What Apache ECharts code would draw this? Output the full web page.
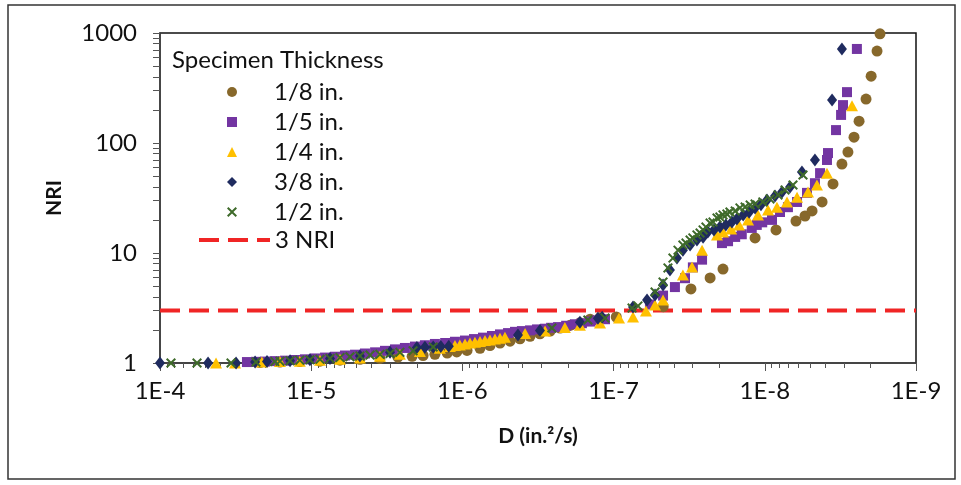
<!DOCTYPE html>
<html><head><meta charset="utf-8">
<script src="https://cdn.jsdelivr.net/npm/echarts@6/dist/echarts.min.js"></script>
<style>html,body{margin:0;padding:0;background:#fff}#c{width:961px;height:485px}</style>
</head><body><div id="c"></div>
<script>
// ---- data (D in in.^2/s, NRI) ----
const seriesNames = ['1/8 in.', '1/5 in.', '1/4 in.', '3/8 in.', '1/2 in.'];
const refName = '3 NRI';
const refNRI = 3;

const d8 = [2.18e-5,1.61e-5,1.19e-5,8.75e-6,6.45e-6,4.76e-6,3.51e-6,2.67e-6,2.15e-6,1.82e-6,1.52e-6,1.26e-6,1.09e-6,9.32e-7,7.65e-7,6.57e-7,5.64e-7,4.84e-7,4.16e-7,3.57e-7,3.07e-7,2.63e-7,2.26e-7,1.94e-7,1.67e-7,1.43e-7,1.23e-7,9.6e-8,
  4.7e-8,3.08e-8,2.30e-8,1.89e-8,1.16e-8,8.43e-9,6.22e-9,5.42e-9,4.87e-9,4.18e-9,3.54e-9,3.09e-9,2.82e-9,2.57e-9,2.38e-9,2.14e-9,1.98e-9,1.81e-9,1.73e-9];
const n8 = [1.01,1.02,1.03,1.04,1.06,1.08,1.1,1.13,1.15,1.17,1.2,1.23,1.26,1.3,1.36,1.44,1.52,1.58,1.66,1.75,1.84,1.95,2.08,2.2,2.32,2.5,2.58,2.62,
  3.25,4.71,5.93,7.15,13.7,16.2,19.5,21.7,24.1,29.1,42.5,64.3,82.7,113,158,251,405,685,982];

const d5 = [2.66e-5,2.32e-5,2.02e-5,1.74e-5,1.49e-5,1.28e-5,1.10e-5,9.44e-6,8.10e-6,6.96e-6,5.98e-6,5.13e-6,4.41e-6,3.78e-6,3.25e-6,2.79e-6,2.40e-6,2.06e-6,1.77e-6,1.52e-6,1.30e-6,1.12e-6,9.61e-7,8.38e-7,7.31e-7,6.37e-7,5.64e-7,4.99e-7,4.49e-7,4.04e-7,3.57e-7,3.21e-7,2.84e-7,2.59e-7,2.33e-7,2.06e-7,1.80e-7,1.62e-7,1.43e-7,1.29e-7,1.14e-7,
  5.75e-8,4.71e-8,3.93e-8,3.37e-8,2.99e-8,2.60e-8,1.92e-8,1.75e-8,1.57e-8,1.42e-8,1.22e-8,1.13e-8,1.04e-8,8.96e-9,7.93e-9,7.03e-9,6.12e-9,5.26e-9,4.66e-9,4.31e-9,3.88e-9,3.82e-9,3.38e-9,3.13e-9,3.04e-9,2.86e-9,2.46e-9];
const n5 = [1.02,1.025,1.03,1.04,1.05,1.065,1.08,1.1,1.12,1.14,1.17,1.19,1.22,1.25,1.29,1.33,1.37,1.41,1.45,1.49,1.52,1.56,1.6,1.65,1.7,1.76,1.82,1.87,1.92,1.95,1.98,2.02,2.05,2.09,2.12,2.18,2.25,2.3,2.38,2.44,2.5,
  3.4,4.1,4.9,5.9,7.4,8.7,12.3,12.8,14.0,14.8,16.9,18.0,19.0,20.0,23.6,26.1,29.1,35.2,43.1,53.2,70.1,81,131,180,221,290,716];

const d4 = [4.26e-5,3.19e-5,2.12e-5,1.61e-5,1.19e-5,8.75e-6,6.45e-6,4.76e-6,3.51e-6,2.59e-6,1.91e-6,1.41e-6,1.21e-6,1.12e-6,1.04e-6,9.61e-7,8.91e-7,8.26e-7,7.65e-7,7.09e-7,6.57e-7,6.09e-7,5.64e-7,5.23e-7,3.85e-7,2.84e-7,2.10e-7,1.67e-7,1.23e-7,
  9.21e-8,7.44e-8,6.11e-8,5.32e-8,4.71e-8,3.48e-8,3.03e-8,2.60e-8,2.07e-8,1.89e-8,1.67e-8,1.48e-8,1.29e-8,1.11e-8,9.52e-9,8.31e-9,7.13e-9,6.12e-9,5.18e-9,4.52e-9,3.88e-9,2.65e-9];
const n4 = [1.0,1.0,1.02,1.03,1.04,1.06,1.08,1.11,1.15,1.2,1.27,1.36,1.41,1.44,1.46,1.49,1.52,1.54,1.57,1.6,1.62,1.65,1.68,1.71,1.85,1.95,2.1,2.2,2.31,
  2.56,2.62,2.97,3.36,3.74,6.3,7.45,10.6,14.6,15.5,16.5,18.0,20.0,22.2,24.6,26.1,29.1,32.1,35.9,41.5,53.2,218];

const d38 = [1.0e-4,4.81e-5,3.14e-5,2.35e-5,1.96e-5,1.38e-5,1.02e-5,7.51e-6,4.76e-6,3.01e-6,2.00e-6,1.77e-6,1.56e-6,1.39e-6,1.23e-6,4.29e-7,3.07e-7,1.67e-7,1.27e-7,1.19e-7,
  7.44e-8,6.01e-8,5.32e-8,4.71e-8,4.24e-8,3.81e-8,3.48e-8,3.12e-8,2.81e-8,2.56e-8,2.38e-8,2.17e-8,1.98e-8,1.81e-8,1.65e-8,1.53e-8,1.39e-8,1.27e-8,1.16e-8,1.06e-8,9.67e-9,8.56e-9,7.69e-9,6.81e-9,5.68e-9,4.66e-9,3.59e-9,3.09e-9];
const n38 = [1.0,1.0,1.0,1.02,1.03,1.05,1.07,1.1,1.16,1.25,1.38,1.39,1.4,1.41,1.42,1.8,1.97,2.35,2.55,2.6,
  3.23,3.74,4.15,5.12,7.0,9.0,10.6,11.8,13.1,13.9,15.5,16.2,17.2,18.0,19.1,20.4,22.2,23.5,25.7,27.4,30.3,32.9,35.9,39.9,54.5,70.1,246,716];

const d2 = [8.46e-5,5.69e-5,3.39e-5,2.32e-5,1.74e-5,1.61e-5,1.38e-5,1.19e-5,1.02e-5,8.75e-6,7.51e-6,6.45e-6,5.54e-6,4.76e-6,4.08e-6,3.51e-6,3.01e-6,2.59e-6,2.12e-6,1.56e-6,2.56e-7,1.48e-7,1.14e-7,
  7.55e-8,6.90e-8,5.32e-8,4.71e-8,4.37e-8,4.05e-8,3.75e-8,3.48e-8,3.32e-8,3.12e-8,2.99e-8,2.81e-8,2.68e-8,2.56e-8,2.45e-8,2.30e-8,2.20e-8,2.07e-8,1.98e-8,1.89e-8,1.78e-8,1.70e-8,1.57e-8,1.46e-8,1.35e-8,1.25e-8,1.16e-8,1.03e-8,9.24e-9,8.18e-9,7.35e-9,6.51e-9,5.59e-9];
const n2 = [1.0,1.0,1.0,1.02,1.03,1.04,1.05,1.06,1.07,1.08,1.1,1.12,1.14,1.16,1.18,1.2,1.22,1.25,1.29,1.4,2.08,2.46,2.56,
  3.16,3.3,4.42,5.45,7.31,9.0,10.6,11.8,12.3,13.1,13.7,14.6,15.2,16.2,17.2,18.7,19.1,20.8,21.2,22.2,22.6,23.6,24.1,25.7,26.2,27.3,27.9,29.1,31.0,33.7,37.4,41.5,51.2];

const xTickLabels = ['1E-4', '1E-5', '1E-6', '1E-7', '1E-8', '1E-9'];
const yTickLabels = ['1', '10', '100', '1000'];

// ---- chart ----
const FONT = 'Lato';
const zip = (a, b) => a.map((v, i) => [v, b[i]]);
const minorX = [];
for (let e = -9; e < -4; e++) for (let m = 2; m <= 9; m++) minorX.push(+(m + 'e' + e));
const minorY = [];
for (let e = 0; e < 3; e++) for (let m = 2; m <= 9; m++) minorY.push(+(m + 'e' + e));
const xSym = 'path://M0,1.4L1.4,0L5,3.6L8.6,0L10,1.4L6.4,5L10,8.6L8.6,10L5,6.4L1.4,10L0,8.6L3.6,5Z';
const colors = ['#87682B', '#7335A2', '#FFC000', '#1F2B5F', '#3E6A2A'];
const symbols = ['circle', 'rect', 'triangle', 'diamond', xSym];
const sizes = [11, 10, [12, 11], [10, 13], 10];
const dataD = [d8, d5, d4, d38, d2];
const dataN = [n8, n5, n4, n38, n2];

const chart = echarts.init(document.getElementById('c'));
const txt = {fontFamily: FONT, color: '#111'};

const scatterSeries = seriesNames.map((nm, i) => ({
  name: nm, type: 'scatter', data: zip(dataD[i], dataN[i]),
  symbol: symbols[i], symbolSize: sizes[i],
  itemStyle: {color: colors[i], opacity: 1}, z: 3
}));

chart.setOption({
  animation: false,
  backgroundColor: '#fff',
  title: {text: 'Specimen Thickness', left: 172, top: 48, padding: 0,
    textStyle: Object.assign({fontSize: 24, fontWeight: 'normal'}, txt)},
  legend: [{
    data: seriesNames, orient: 'vertical', left: 227, top: 77,
    itemWidth: 10, itemHeight: 10, itemGap: 0, padding: 0, selectedMode: false,
    textStyle: Object.assign({fontSize: 24, lineHeight: 30, padding: [0, 0, 0, 32]}, txt)
  }, {
    data: [refName], left: 197, top: 225, itemWidth: 71, itemHeight: 12, padding: 0, selectedMode: false,
    lineStyle: {width: 4},
    itemStyle: {opacity: 0, color: 'rgba(0,0,0,0)', borderWidth: 0},
    textStyle: Object.assign({fontSize: 24, lineHeight: 30}, txt)
  }],
  grid: {left: 160, right: 45, top: 33, bottom: 122, show: true, borderColor: '#111', borderWidth: 1.5},
  xAxis: [{
    type: 'log', logBase: 10, min: 1e-9, max: 1e-4, inverse: true,
    name: 'D (in.²/s)', nameLocation: 'middle', nameGap: 63,
    nameTextStyle: Object.assign({fontSize: 21, fontWeight: 'bold'}, txt),
    axisLine: {lineStyle: {color: '#444', width: 1.5}},
    axisTick: {length: 8, lineStyle: {color: '#555'}},
    axisLabel: Object.assign({fontSize: 24, margin: 16,
      formatter: v => xTickLabels[Math.round(-4 - Math.log10(v))]}, txt),
    splitLine: {show: false}
  }, {
    type: 'log', logBase: 10, min: 1e-9, max: 1e-4, inverse: true, position: 'bottom',
    axisLine: {show: false}, axisLabel: {show: false}, splitLine: {show: false},
    axisTick: {customValues: minorX, length: 5, lineStyle: {color: '#555'}}
  }],
  yAxis: [{
    type: 'log', logBase: 10, min: 1, max: 1000,
    name: 'NRI', nameLocation: 'middle', nameGap: 95,
    nameTextStyle: Object.assign({fontSize: 21, fontWeight: 'bold'}, txt),
    axisLine: {lineStyle: {color: '#444', width: 1.5}},
    axisTick: {length: 7, lineStyle: {color: '#555'}},
    axisLabel: Object.assign({fontSize: 24, margin: 23,
      formatter: v => yTickLabels[Math.round(Math.log10(v))]}, txt),
    splitLine: {show: false}
  }, {
    type: 'log', logBase: 10, min: 1, max: 1000, position: 'left',
    axisLine: {show: false}, axisLabel: {show: false}, splitLine: {show: false},
    axisTick: {customValues: minorY, length: 7, lineStyle: {color: '#555'}}
  }],
  graphic: [{type: 'rect', shape: {x: 8, y: 5, width: 947, height: 474}, silent: true, z: -1,
    style: {fill: 'none', stroke: '#333', lineWidth: 1.5}}],
  series: [{
    name: refName, type: 'line', data: [[1e-4, refNRI], [1e-9, refNRI]], symbol: 'none', z: 2,
    lineStyle: {color: '#F02525', width: 4, type: [20, 9]}, itemStyle: {color: '#F02525'}
  }].concat(scatterSeries)
});
</script></body></html>
